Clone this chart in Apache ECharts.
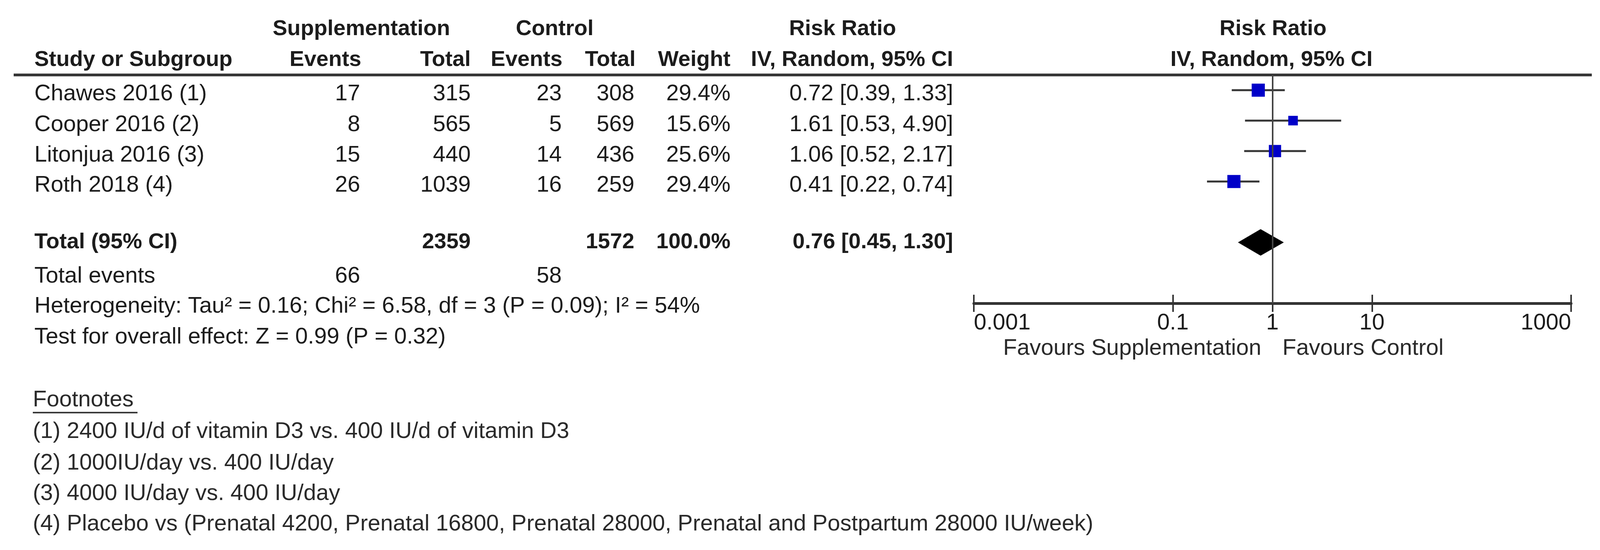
<!DOCTYPE html>
<html><head><meta charset="utf-8">
<script src="https://cdn.jsdelivr.net/npm/echarts@6/dist/echarts.min.js"></script>
<style>html,body{margin:0;padding:0;background:#fff}#c{width:4110px;height:1409px}</style>
</head><body><div id="c"></div>
<script>
// ---------- data ----------
const studies = ['Chawes 2016 (1)', 'Cooper 2016 (2)', 'Litonjua 2016 (3)', 'Roth 2018 (4)'];
const suppEvents = [17, 8, 15, 26];
const suppTotal = [315, 565, 440, 1039];
const ctrlEvents = [23, 5, 14, 16];
const ctrlTotal = [308, 569, 436, 259];
const weights = [29.4, 15.6, 25.6, 29.4];
const rr = [0.72, 1.61, 1.06, 0.41];
const rrLow = [0.39, 0.53, 0.52, 0.22];
const rrHigh = [1.33, 4.90, 2.17, 0.74];
const pooled = [0.76, 0.45, 1.30];           // estimate, lower, upper
const totalsSupp = 2359, totalsCtrl = 1572, totalWeight = 100.0;
const totalEventsSupp = 66, totalEventsCtrl = 58;
const tickLabels = ['0.001', '0.1', '1', '10', '1000'];
const heterogeneity = 'Heterogeneity: Tau\u00B2 = 0.16; Chi\u00B2 = 6.58, df = 3 (P = 0.09); I\u00B2 = 54%';
const overallTest = 'Test for overall effect: Z = 0.99 (P = 0.32)';
const footnotes = [
  '(1) 2400 IU/d of vitamin D3 vs. 400 IU/d of vitamin D3',
  '(2) 1000IU/day vs. 400 IU/day',
  '(3) 4000 IU/day vs. 400 IU/day',
  '(4) Placebo vs (Prenatal 4200, Prenatal 16800, Prenatal 28000, Prenatal and Postpartum 28000 IU/week)'
];
const favours = ['Favours Supplementation', 'Favours Control'];

// ---------- layout ----------
const FONT = '"Liberation Sans", Arial, sans-serif';
const REG = 58, BOLD = 56;
const TXT = '#1c1c1c';
const colX = {name: 88, sEv: 922, sTot: 1205, cEv: 1438, cTot: 1624, w: 1870, rr: 2440};
const rowY = [241, 320, 398, 475];
const yHead1 = 75, yHead2 = 154, yTotal = 621, yTotEv = 708, yHet = 785, yTest = 864;
const yFootTitle = 1025, yFoot = [1106, 1187, 1265, 1343];
const TOTAL_ROW = 5;

function txt(text, x, y, align, bold, color) {
  return {
    type: 'text', silent: true, z: 10,
    style: {
      text: String(text), x: x, y: y,
      font: (bold ? 'bold ' + BOLD : REG) + 'px ' + FONT,
      fill: color || TXT,
      align: align, textAlign: align,
      verticalAlign: 'middle', textVerticalAlign: 'middle'
    }
  };
}
const f2 = v => v.toFixed(2);
const ciText = (e, l, h) => f2(e) + ' [' + f2(l) + ', ' + f2(h) + ']';

const g = [];
// headers
g.push(txt('Supplementation', 698, yHead1, 'left', true));
g.push(txt('Control', 1420, yHead1, 'center', true));
g.push(txt('Risk Ratio', 2157, yHead1, 'center', true));
g.push(txt('Risk Ratio', 3259, yHead1, 'center', true));
g.push(txt('Study or Subgroup', colX.name, yHead2, 'left', true));
g.push(txt('Events', 925, yHead2, 'right', true));
g.push(txt('Total', colX.sTot, yHead2, 'right', true));
g.push(txt('Events', 1440, yHead2, 'right', true));
g.push(txt('Total', 1627, yHead2, 'right', true));
g.push(txt('Weight', colX.w, yHead2, 'right', true));
g.push(txt('IV, Random, 95% CI', colX.rr, yHead2, 'right', true));
g.push(txt('IV, Random, 95% CI', 3255, yHead2, 'center', true));
// header rule
g.push({type: 'line', silent: true, z: 5, shape: {x1: 35, y1: 192, x2: 4075, y2: 192},
        style: {stroke: '#333', lineWidth: 7}});
// study rows
studies.forEach((s, i) => {
  const y = rowY[i];
  g.push(txt(s, colX.name, y, 'left'));
  g.push(txt(suppEvents[i], colX.sEv, y, 'right'));
  g.push(txt(suppTotal[i], colX.sTot, y, 'right'));
  g.push(txt(ctrlEvents[i], colX.cEv, y, 'right'));
  g.push(txt(ctrlTotal[i], colX.cTot, y, 'right'));
  g.push(txt(weights[i].toFixed(1) + '%', colX.w, y, 'right'));
  g.push(txt(ciText(rr[i], rrLow[i], rrHigh[i]), colX.rr, y, 'right'));
});
// total row
g.push(txt('Total (95% CI)', colX.name, yTotal, 'left', true));
g.push(txt(totalsSupp, colX.sTot, yTotal, 'right', true));
g.push(txt(totalsCtrl, colX.cTot, yTotal, 'right', true));
g.push(txt(totalWeight.toFixed(1) + '%', colX.w, yTotal, 'right', true));
g.push(txt(ciText(pooled[0], pooled[1], pooled[2]), colX.rr, yTotal, 'right', true));
g.push(txt('Total events', colX.name, yTotEv, 'left'));
g.push(txt(totalEventsSupp, colX.sEv, yTotEv, 'right'));
g.push(txt(totalEventsCtrl, colX.cEv, yTotEv, 'right'));
g.push(txt(heterogeneity, colX.name, yHet, 'left'));
g.push(txt(overallTest, colX.name, yTest, 'left'));
// favours
g.push(txt(favours[0], 3229, 893, 'right', false, '#2a2a2a'));
g.push(txt(favours[1], 3283, 893, 'left', false, '#2a2a2a'));
// footnotes
g.push(txt('Footnotes', 84, yFootTitle, 'left', false, '#2a2a2a'));
g.push({type: 'line', silent: true, shape: {x1: 84, y1: 1057, x2: 352, y2: 1057},
        style: {stroke: '#3a3a3a', lineWidth: 4}});
footnotes.forEach((t, i) => g.push(txt(t, 84, yFoot[i], 'left', false, '#2a2a2a')));

// ---------- forest plot ----------
const lg = v => Math.log10(v);
const tickPos = tickLabels.map(t => lg(parseFloat(t)));
const labelFor = v => {
  let best = 0;
  tickPos.forEach((p, i) => { if (Math.abs(p - v) < Math.abs(tickPos[best] - v)) best = i; });
  return tickLabels[best];
};

const ciData = studies.map((s, i) => [lg(rrLow[i]), lg(rrHigh[i]), i]);
const ptData = studies.map((s, i) => [lg(rr[i]), i]);
const diamondData = [[lg(pooled[1]), lg(pooled[0]), lg(pooled[2]), TOTAL_ROW]];

const option = {
  backgroundColor: '#ffffff',
  animation: false,
  grid: [{left: 2493, width: 1529, top: 192, height: 585, containLabel: false}],
  xAxis: [
    {
      type: 'value', min: -3, max: 3, position: 'bottom',
      axisLine: {show: true, onZero: false, lineStyle: {color: '#333', width: 7}},
      axisTick: {show: true, inside: false, length: 22, customValues: tickPos,
                 lineStyle: {color: '#333', width: 4}},
      axisLabel: {show: true, customValues: tickPos, formatter: labelFor, margin: 22,
                  fontSize: REG, fontFamily: FONT, color: TXT,
                  alignMinLabel: 'left', alignMaxLabel: 'right'},
      splitLine: {show: false}
    },
    {
      type: 'value', min: -3, max: 3, position: 'bottom',
      axisLine: {show: false, onZero: false},
      axisTick: {show: true, inside: true, length: 22, customValues: tickPos,
                 lineStyle: {color: '#333', width: 4}},
      axisLabel: {show: false},
      splitLine: {show: false}
    }
  ],
  yAxis: [{type: 'value', inverse: true, min: -0.5, max: 7, show: false,
           axisLine: {onZero: false}, splitLine: {show: false}}],
  graphic: {elements: g},
  series: [
    {
      type: 'custom', name: 'ci', xAxisIndex: 0, yAxisIndex: 0, silent: true, z: 2,
      data: ciData,
      encode: {x: [0, 1], y: 2},
      renderItem: function (params, api) {
        const a = api.coord([api.value(0), api.value(2)]);
        const b = api.coord([api.value(1), api.value(2)]);
        return {type: 'line', shape: {x1: a[0], y1: a[1], x2: b[0], y2: b[1]},
                style: {stroke: '#353535', lineWidth: 5}};
      },
      markLine: {
        silent: true, symbol: ['none', 'none'], label: {show: false},
        lineStyle: {color: '#444', width: 4, type: 'solid'},
        data: [{xAxis: 0}]
      }
    },
    {
      type: 'scatter', name: 'rr', xAxisIndex: 0, yAxisIndex: 0, silent: true, z: 3,
      symbol: 'rect',
      symbolSize: function (val, params) { return Math.sqrt(weights[params.dataIndex]) * 6.2; },
      itemStyle: {color: '#0000c8', opacity: 1},
      data: ptData
    },
    {
      type: 'custom', name: 'pooled', xAxisIndex: 0, yAxisIndex: 0, silent: true, z: 4,
      data: diamondData,
      encode: {x: [0, 1, 2], y: 3},
      renderItem: function (params, api) {
        const l = api.coord([api.value(0), api.value(3)]);
        const c = api.coord([api.value(1), api.value(3)]);
        const r = api.coord([api.value(2), api.value(3)]);
        const h = 34;
        return {type: 'polygon',
                shape: {points: [[l[0], l[1]], [c[0], c[1] - h], [r[0], r[1]], [c[0], c[1] + h]]},
                style: {fill: '#000'}};
      }
    }
  ]
};
const chart = echarts.init(document.getElementById('c'));
chart.setOption(option);
</script>
</body></html>
